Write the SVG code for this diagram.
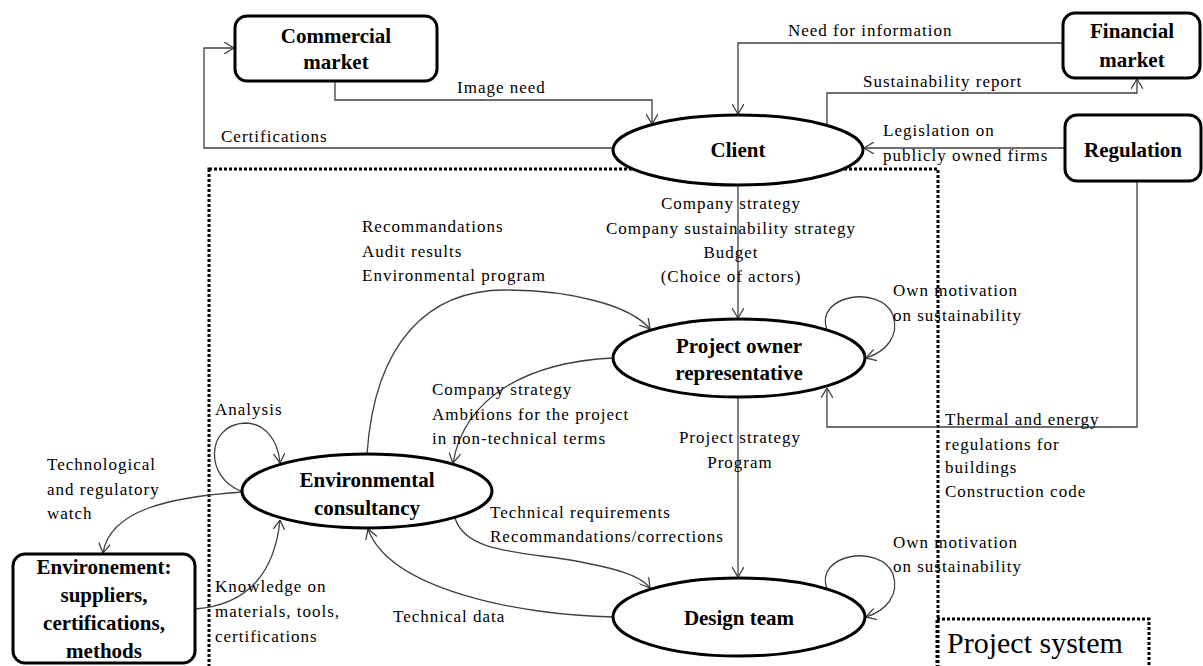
<svg xmlns="http://www.w3.org/2000/svg" width="1203" height="666" viewBox="0 0 1203 666">
<style>
.node{fill:#fff;stroke:#000;stroke-width:3}
.nt{font-family:"Liberation Serif","Times New Roman",serif;font-size:21px;font-weight:bold;text-anchor:middle;fill:#000}
.c{fill:none;stroke:#404040;stroke-width:1.3}
.lb{font-family:"Liberation Serif","Times New Roman",serif;font-size:17px;letter-spacing:1px;fill:#000}
.mid{text-anchor:middle}
.frame{fill:none;stroke:#000;stroke-width:3;stroke-dasharray:3 2}
</style>
<defs>
<marker id="ar" viewBox="0 0 10 12" refX="10" refY="6" markerWidth="10" markerHeight="12" markerUnits="userSpaceOnUse" orient="auto">
<path d="M0,0 L10,6 L0,12" fill="none" stroke="#404040" stroke-width="1.3"/>
</marker>
</defs>
<rect width="1203" height="666" fill="#fff"/>
<g id="project-system-frame">
<rect class="frame" x="209" y="169" width="729" height="520"/>
</g>
<g id="connectors">
<path class="c" d="M335,81 V100 H652 V124" marker-end="url(#ar)"/>
<path class="c" d="M613,148 H204 V48 H234" marker-end="url(#ar)"/>
<path class="c" d="M1063,43 H738 V114" marker-end="url(#ar)"/>
<path class="c" d="M827,124 V93 H1137 V79" marker-end="url(#ar)"/>
<path class="c" d="M1065,148 H864" marker-end="url(#ar)"/>
<path class="c" d="M738,185 V318" marker-end="url(#ar)"/>
<path class="c" d="M1137,181 V427 H827 V388" marker-end="url(#ar)"/>
<path class="c" d="M827,330 C814,295 880,284 893,315 C900,337 885,352 866,358" marker-end="url(#ar)"/>
<path class="c" d="M738,397 V577" marker-end="url(#ar)"/>
<path class="c" d="M827,589 C814,554 880,543 893,574 C900,596 885,611 866,617" marker-end="url(#ar)"/>
<path class="c" d="M613,358 C530,362 465,395 453,463" marker-end="url(#ar)"/>
<path class="c" d="M367,454 C375,340 430,290 505,290 C570,290 630,305 650,329" marker-end="url(#ar)"/>
<path class="c" d="M455,518 C465,552 520,552 570,560 C615,568 640,575 650,588" marker-end="url(#ar)"/>
<path class="c" d="M613,617 C520,615 390,590 368,529" marker-end="url(#ar)"/>
<path class="c" d="M241,491 C205,478 205,425 245,423 C265,423 278,440 280,463" marker-end="url(#ar)"/>
<path class="c" d="M242,492 C170,497 110,510 103,553" marker-end="url(#ar)"/>
<path class="c" d="M195,609 C250,605 275,570 280,520" marker-end="url(#ar)"/>
</g>
<g id="commercial-market">
<rect class="node" x="235" y="16" width="202" height="65" rx="12"/>
<text class="nt" x="336" y="43">Commercial</text>
<text class="nt" x="336" y="69">market</text>
</g>
<g id="financial-market">
<rect class="node" x="1063" y="13" width="137" height="65" rx="12"/>
<text class="nt" x="1132" y="38">Financial</text>
<text class="nt" x="1132" y="67">market</text>
</g>
<g id="regulation">
<rect class="node" x="1065" y="115" width="136" height="66" rx="12"/>
<text class="nt" x="1133" y="157">Regulation</text>
</g>
<g id="client">
<ellipse class="node" cx="738" cy="150" rx="125" ry="35"/>
<text class="nt" x="738" y="157">Client</text>
</g>
<g id="project-owner-representative">
<ellipse class="node" cx="739" cy="358" rx="126" ry="39"/>
<text class="nt" x="739" y="353">Project owner</text>
<text class="nt" x="739" y="380">representative</text>
</g>
<g id="environmental-consultancy">
<ellipse class="node" cx="367" cy="491" rx="125" ry="37"/>
<text class="nt" x="367" y="487">Environmental</text>
<text class="nt" x="367" y="515">consultancy</text>
</g>
<g id="design-team">
<ellipse class="node" cx="739" cy="617" rx="126" ry="39"/>
<text class="nt" x="739" y="625">Design team</text>
</g>
<g id="environement">
<rect class="node" x="13" y="554" width="182" height="109" rx="12"/>
<text class="nt" x="104" y="574">Environement:</text>
<text class="nt" x="104" y="602">suppliers,</text>
<text class="nt" x="104" y="630">certifications,</text>
<text class="nt" x="104" y="658">methods</text>
</g>
<g id="project-system">
<rect class="frame" x="937" y="619" width="212" height="70"/>
<text x="947" y="653" style="font-family:'Liberation Serif','Times New Roman',serif;font-size:30px;fill:#000">Project system</text>
</g>
<g id="labels">
<text class="lb" x="457" y="93">Image need</text>
<text class="lb" x="221" y="142">Certifications</text>
<text class="lb" x="788" y="36">Need for information</text>
<text class="lb" x="863" y="87">Sustainability report</text>
<text class="lb" x="883" y="136">Legislation on</text>
<text class="lb" x="883" y="161">publicly owned firms</text>
<text class="lb mid" x="731" y="209">Company strategy</text>
<text class="lb mid" x="731" y="234">Company sustainability strategy</text>
<text class="lb mid" x="731" y="258">Budget</text>
<text class="lb mid" x="731" y="282">(Choice of actors)</text>
<text class="lb" x="362" y="232">Recommandations</text>
<text class="lb" x="362" y="257">Audit results</text>
<text class="lb" x="362" y="281">Environmental program</text>
<text class="lb" x="893" y="296">Own motivation</text>
<text class="lb" x="893" y="321">on sustainability</text>
<text class="lb" x="432" y="395">Company strategy</text>
<text class="lb" x="432" y="420">Ambitions for the project</text>
<text class="lb" x="432" y="444">in non-technical terms</text>
<text class="lb" x="215" y="415">Analysis</text>
<text class="lb" x="47" y="470">Technological</text>
<text class="lb" x="47" y="495">and regulatory</text>
<text class="lb" x="47" y="519">watch</text>
<text class="lb mid" x="740" y="443">Project strategy</text>
<text class="lb mid" x="740" y="468">Program</text>
<text class="lb" x="945" y="425">Thermal and energy</text>
<text class="lb" x="945" y="450">regulations for</text>
<text class="lb" x="945" y="473">buildings</text>
<text class="lb" x="945" y="497">Construction code</text>
<text class="lb" x="490" y="518">Technical requirements</text>
<text class="lb" x="490" y="542">Recommandations/corrections</text>
<text class="lb" x="893" y="548">Own motivation</text>
<text class="lb" x="893" y="572">on sustainability</text>
<text class="lb" x="215" y="592">Knowledge on</text>
<text class="lb" x="215" y="617">materials, tools,</text>
<text class="lb" x="215" y="642">certifications</text>
<text class="lb" x="393" y="622">Technical data</text>
</g>
</svg>
